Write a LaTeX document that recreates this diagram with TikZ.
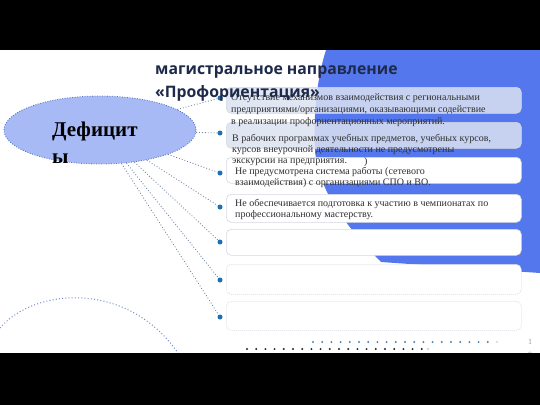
\documentclass[tikz,border=0pt]{standalone}
\usepackage{fontspec}
\setmainfont{Liberation Serif}
\newfontfamily\headfont{Open Sans}
\usetikzlibrary{shapes.geometric}

\definecolor{slideblue}{HTML}{5577EE}
\definecolor{ovalfill}{HTML}{A8BAF5}
\definecolor{ovalline}{HTML}{4F6FC0}
\definecolor{linkgrey}{HTML}{6C7E9E}
\definecolor{dotblue}{HTML}{1F6FB5}
\definecolor{boxfill}{HTML}{DCE2F2}
\definecolor{boxline}{HTML}{D4D8E0}
\definecolor{headnavy}{HTML}{1E2A4A}
\definecolor{textgrey}{HTML}{2E2E2E}

\begin{document}
\begin{tikzpicture}[x=1pt,y=-1pt,
  box/.style={draw=boxline, line width=0.6pt, rounded corners=5pt, anchor=north west,
    minimum width=295pt, inner sep=0pt},
  bullet/.style={circle, fill=dotblue, inner sep=0pt, minimum size=5pt},
  link/.style={linkgrey, line width=0.8pt, dash pattern=on 0.9pt off 2pt},
  txt/.style={anchor=base west, align=left, inner sep=0pt, text=textgrey,
    font=\fontsize{10}{11.8}\selectfont}]
\useasboundingbox (0,0) rectangle (540,405);
\fill[white] (0,0) rectangle (540,405);

% blue shape behind the boxes
\fill[slideblue] (326,50) -- (540,50) -- (540,273) -- (381,262)
  .. controls (345,225) and (318,190) .. (315,150)
  .. controls (313,110) and (318,75) .. (326,50) -- cycle;

% boxes
\node[box, minimum height=26pt, fill=boxfill, fill opacity=0.85] (b1) at (226,87) {};
\node[box, minimum height=26pt, fill=boxfill, fill opacity=0.85] (b2) at (226,122) {};
\node[box, minimum height=26pt, fill=white] (b3) at (226,157) {};
\node[box, minimum height=28pt, fill=white] (b4) at (226,194) {};
\node[box, minimum height=26pt, fill=white] (b5) at (226,229) {};
\node[box, minimum height=30pt, fill=white, dash pattern=on 1pt off 1pt] (b6) at (226,264) {};
\node[box, minimum height=29pt, fill=white, dash pattern=on 1pt off 1pt] (b7) at (226,301) {};

% oval
\node[ellipse, draw=ovalline, fill=ovalfill, line width=0.8pt,
  dash pattern=on 0.9pt off 1.6pt, minimum width=192pt, minimum height=68pt,
  inner sep=0pt] (def) at (100,130) {};
\node[anchor=base west, align=left, inner sep=0pt,
  font=\bfseries\fontsize{21}{27}\selectfont] (deftxt) at (52,163) {Дефицит\\ы};

% bullets
\node[bullet] (d1) at (220,98) {};
\node[bullet] (d2) at (220,133) {};
\node[bullet] (d3) at (220,173) {};
\node[bullet] (d4) at (220,207) {};
\node[bullet] (d5) at (220,242) {};
\node[bullet] (d6) at (220,280) {};
\node[bullet] (d7) at (220,317) {};

\draw[link] (def) -- (d1);
\draw[link] (def) -- (d2);
\draw[link] (def) -- (d3);
\draw[link] (def) -- (d4);
\draw[link] (def) -- (d5);
\draw[link] (def) -- (d6);
\draw[link] (def) -- (d7);

% box texts
\node[txt] (t1) at (231,124) {Отсутствие механизмов взаимодействия с региональными\\
  предприятиями/организациями, оказывающими содействие\\
  в реализации профориентационных мероприятий.};
\node[txt, font=\fontsize{10}{11}\selectfont] (t2) at (232,163)
  {В рабочих программах учебных предметов, учебных курсов,\\
  курсов внеурочной деятельности не предусмотрены\\
  экскурсии на предприятия.};
\node[txt] (t2b) at (364,164) {)};
\node[txt, font=\fontsize{10}{11}\selectfont] (t3) at (235,185)
  {Не предусмотрена система работы (сетевого\\
  взаимодействия) с организациями СПО и ВО.};
\node[txt, font=\fontsize{10}{11}\selectfont] (t4) at (235,217)
  {Не обеспечивается подготовка к участию в чемпионатах по\\
  профессиональному мастерству.};

% title
\node[anchor=base west, align=left, inner sep=0pt, text=headnavy,
  font=\headfont\bfseries\fontsize{15.8}{23}\selectfont] (head) at (155,97)
  {магистральное направление\\«Профориентация»};

% decorations at the bottom
\draw[ovalline!80, line width=1pt, dash pattern=on 1pt off 2.2pt]
  (0,328) .. controls (35,287) and (130,280) .. (180,356);
\foreach \i in {0,...,19}
  \fill[dotblue!85] (313+\i*9.2,342) circle (1.1pt);
\fill[dotblue!25] (497,342) circle (1.1pt);
\foreach \i in {0,...,19}
  \fill[black!85] (247+\i*9.2,349) circle (1.1pt);
\fill[black!20] (428,349) circle (1.1pt);
\node[text=black!40, font=\fontsize{8}{8}\selectfont, inner sep=0pt] (pg1) at (530,342) {1};
\node[text=black!40, font=\fontsize{8}{8}\selectfont, inner sep=0pt] (pg2) at (530,355) {9};

% black bands
\fill[black] (0,0) rectangle (540,50);
\fill[black] (0,353) rectangle (540,405);
\end{tikzpicture}
\end{document}
